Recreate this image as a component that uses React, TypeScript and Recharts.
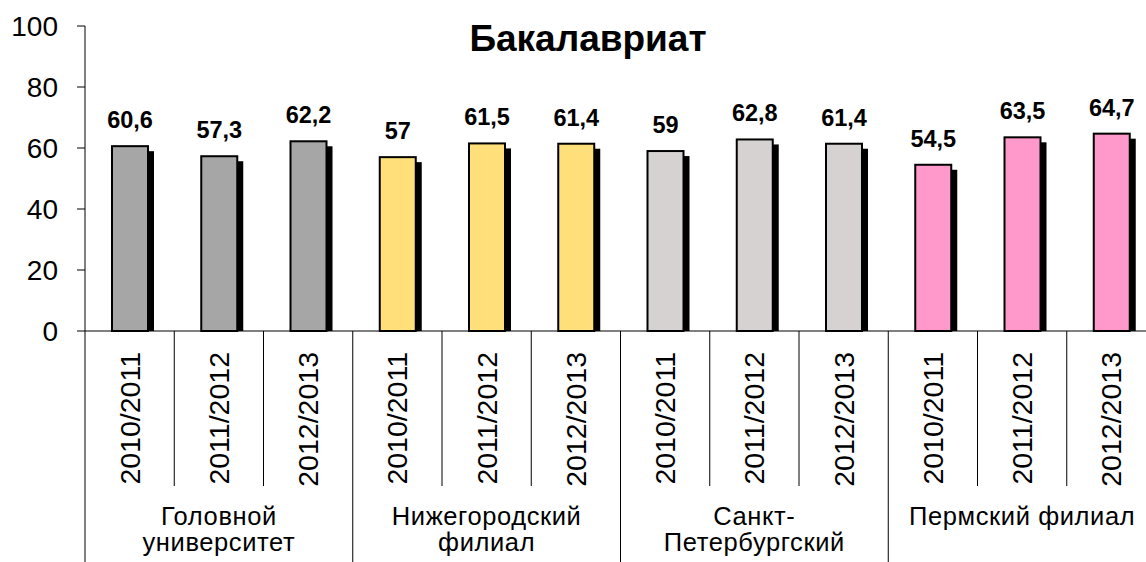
import React from 'react';
import { BarChart, Bar, XAxis, YAxis, LabelList, Cell } from 'recharts';

const years = ['2010/2011', '2011/2012', '2012/2013'];
const groupLines = [
  ['Головной', 'университет'],
  ['Нижегородский', 'филиал'],
  ['Санкт-', 'Петербургский'],
  ['Пермский филиал'],
];
const values = [60.6, 57.3, 62.2, 57, 61.5, 61.4, 59, 62.8, 61.4, 54.5, 63.5, 64.7];
const groupColors = ['#A6A6A6', '#FFDF7A', '#D6D2D2', '#FF99CC'];
const yTicks = [0, 20, 40, 60, 80, 100];
const title = 'Бакалавриат';

const data = values.map((v, i) => ({
  key: i,
  year: years[i % 3],
  group: Math.floor(i / 3),
  value: v,
}));

const FONT = '"Liberation Sans", Arial, sans-serif';
const XAXIS_H = 231;

const ShadowBar = (props: any) => {
  const { x, y, width, height, fill } = props;
  if (height == null || height <= 0) return null;
  return (
    <g>
      <rect x={x + 6} y={y + 5} width={width} height={Math.max(0, height - 5)} fill="#000" />
      <rect x={x} y={y} width={width} height={height} fill={fill} stroke="#000" strokeWidth={2} />
    </g>
  );
};

const XTick = (props: any) => {
  const { x, y, payload, index } = props;
  const off = payload && payload.offset ? payload.offset : 44.6;
  const i = index;
  const d = data[i];
  const long = i % 3 === 0;
  return (
    <g>
      <line x1={x - off} x2={x - off} y1={y} y2={y + (long ? XAXIS_H : 155)} stroke="#000" strokeWidth={1} />
      {i === data.length - 1 && (
        <line x1={x + off} x2={x + off} y1={y} y2={y + XAXIS_H} stroke="#000" strokeWidth={1} />
      )}
      <g transform={`translate(${x},${y})`}>
        <text
          transform="rotate(-90)"
          x={-21}
          y={10}
          textAnchor="end"
          fontSize={28.5}
          fontFamily={FONT}
          fill="#000"
        >
          {d.year}
        </text>
      </g>
      {i % 3 === 1 &&
        groupLines[d.group].map((ln, k) => (
          <text
            key={k}
            x={x}
            y={y + 194 + k * 26}
            textAnchor="middle"
            fontSize={25.5}
            letterSpacing={0.6}
            fontFamily={FONT}
            fill="#000"
          >
            {ln}
          </text>
        ))}
    </g>
  );
};

const ValueLabel = (props: any) => {
  const { x, y, width, value } = props;
  return (
    <text
      x={x + width / 2}
      y={y - 18}
      textAnchor="middle"
      fontSize={23.5}
      fontWeight="bold"
      fontFamily={FONT}
      fill="#000"
    >
      {String(value).replace('.', ',')}
    </text>
  );
};

export default function App() {
  return (
    <div
      style={{
        position: 'fixed',
        left: 0,
        top: 0,
        width: 1146,
        height: 562,
        overflow: 'hidden',
        background: '#fff',
      }}
    >
      <BarChart
        width={1160}
        height={562}
        data={data}
        margin={{ top: 26, right: 4, left: 0, bottom: 0 }}
        barSize={36}
      >
        <YAxis
          domain={[0, 100]}
          ticks={yTicks}
          width={85}
          axisLine={{ stroke: '#000', strokeWidth: 1 }}
          tickLine={{ stroke: '#000', strokeWidth: 1 }}
          tickSize={8}
          tickMargin={19}
          tick={{ fontSize: 28, fontFamily: FONT, fill: '#000' }}
          interval={0}
        />
        <XAxis
          dataKey="key"
          height={XAXIS_H}
          axisLine={{ stroke: '#000', strokeWidth: 1 }}
          tickLine={false}
          tickSize={0}
          tickMargin={0}
          interval={0}
          tick={<XTick />}
        />
        <Bar dataKey="value" isAnimationActive={false} shape={<ShadowBar />}>
          {data.map((d) => (
            <Cell key={d.key} fill={groupColors[d.group]} />
          ))}
          <LabelList dataKey="value" content={<ValueLabel />} />
        </Bar>
      </BarChart>
      <svg
        width={1146}
        height={562}
        style={{ position: 'absolute', left: 0, top: 0, pointerEvents: 'none' }}
      >
        <text
          x={588}
          y={51}
          textAnchor="middle"
          fontSize={37}
          fontWeight="bold"
          fontFamily={FONT}
          fill="#000"
        >
          {title}
        </text>
      </svg>
    </div>
  );
}
